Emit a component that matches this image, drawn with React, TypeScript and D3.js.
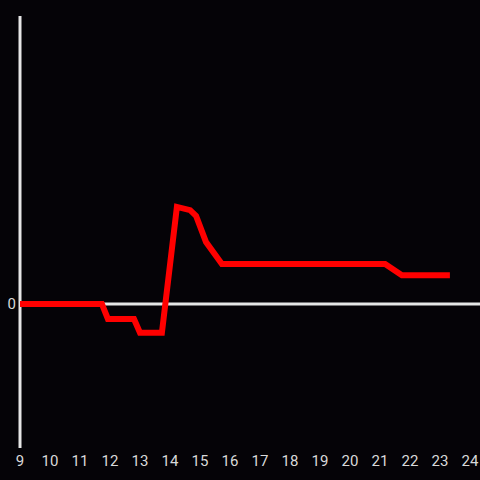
import React from "react";
import * as d3 from "d3";

const xValues = [9, 11.73, 11.93, 12.8, 13.0, 13.73, 14.23, 14.67, 14.87, 15.2, 15.73, 21.17, 21.73, 23.33];
const yValues = [0, 0, -0.52, -0.52, -1.0, -1.0, 3.37, 3.26, 3.06, 2.15, 1.39, 1.39, 1.0, 1.0];
const xTicks = [9, 10, 11, 12, 13, 14, 15, 16, 17, 18, 19, 20, 21, 22, 23, 24];
const yTicks = [0];

export default function App() {
  const W = 480, H = 480;
  const x = d3.scaleLinear().domain([9, 24]).range([20, 470]);
  const y = d3.scaleLinear().domain([-5, 10]).range([448, 16]);
  const data = xValues.map((v, i) => [v, yValues[i]] as [number, number]);
  const line = d3.line<[number, number]>().x(d => x(d[0])).y(d => y(d[1]));
  const font = "Roboto, 'Liberation Sans', sans-serif";
  return (
    <svg width={W} height={H} style={{ position: "absolute", left: 0, top: 0, background: "#050307" }}>
      <rect width={W} height={H} fill="#050307" />
      <line x1={x(9)} x2={x(9)} y1={y(10)} y2={y(-5)} stroke="#e6e6e6" strokeWidth={3} />
      <line x1={x(9)} x2={W} y1={y(0)} y2={y(0)} stroke="#e6e6e6" strokeWidth={3} />
      {yTicks.map(t => (
        <text key={t} x={16} y={y(t)} dy="0.35em" textAnchor="end" fill="#d9d9d9" fontSize={15} fontFamily={font}>{t}</text>
      ))}
      {xTicks.map(t => (
        <text key={t} x={x(t)} y={466} textAnchor="middle" fill="#d9d9d9" fontSize={15} fontFamily={font}>{t}</text>
      ))}
      <path d={line(data) || ""} fill="none" stroke="#ff0000" strokeWidth={6} strokeLinejoin="miter" />
    </svg>
  );
}
